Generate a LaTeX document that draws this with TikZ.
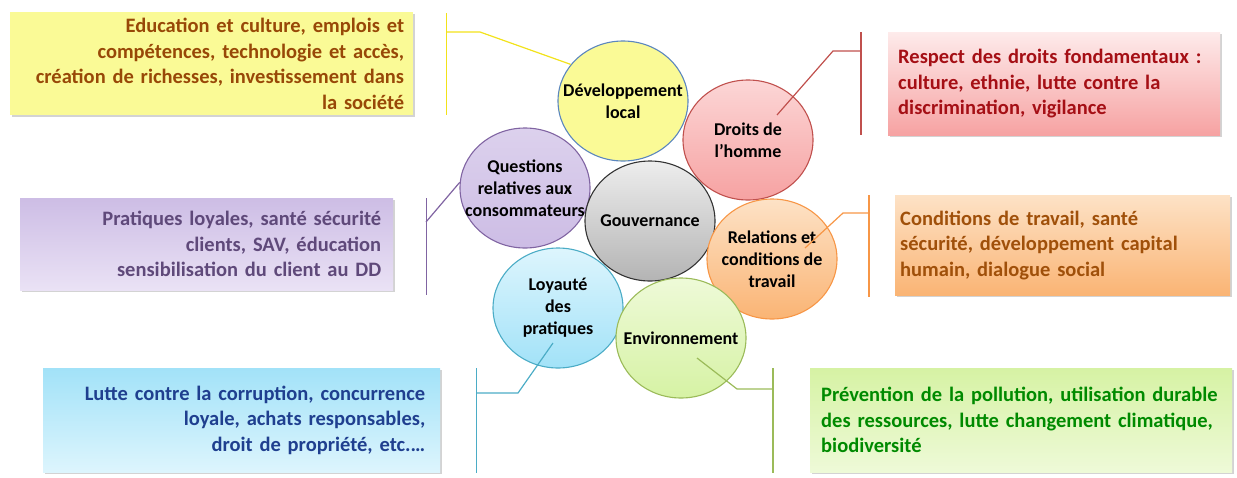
\documentclass[tikz,border=0pt]{standalone}
\usepackage{fontspec}
\setmainfont{Carlito}
\usetikzlibrary{calc}
\usetikzlibrary{shapes.geometric}
\usetikzlibrary{positioning}
\usetikzlibrary{shadows}

\definecolor{devline}{HTML}{5B86BE}
\definecolor{yelfill}{HTML}{FAFA96}
\definecolor{yelline}{HTML}{F2E21A}
\definecolor{yeltext}{HTML}{984807}
\definecolor{redline}{HTML}{C0504D}
\definecolor{redtop}{HTML}{FCD6D6}
\definecolor{redbot}{HTML}{F6A2A2}
\definecolor{redtext}{HTML}{A50F15}
\definecolor{purline}{HTML}{8064A2}
\definecolor{purtop}{HTML}{CDBDE5}
\definecolor{purbot}{HTML}{EAE2F5}
\definecolor{purtext}{HTML}{5F497A}
\definecolor{oraline}{HTML}{F79646}
\definecolor{oratop}{HTML}{FDE2C6}
\definecolor{orabot}{HTML}{FAB474}
\definecolor{oratext}{HTML}{A0500A}
\definecolor{bluline}{HTML}{4BACC6}
\definecolor{blutop}{HTML}{A2E2F8}
\definecolor{blubot}{HTML}{DDF5FD}
\definecolor{blutext}{HTML}{1F3F8F}
\definecolor{greline}{HTML}{9BBB59}
\definecolor{gretop}{HTML}{D6F2A4}
\definecolor{grebot}{HTML}{EEFAD8}
\definecolor{gretext}{HTML}{008A00}
\definecolor{govtop}{HTML}{EDEDED}
\definecolor{govbot}{HTML}{B4B4B4}

\tikzset{
    theme/.style={draw=#1, line width=1.1pt, ellipse, minimum width=130, minimum height=120,
      inner sep=-25pt, align=center, font=\fontsize{18}{22}\selectfont\bfseries},
    infobox/.style={rectangle, anchor=north west, inner xsep=9pt, inner ysep=0pt,
      font=\fontsize{20.5}{25.5}\selectfont\bfseries,
      drop shadow={opacity=0.35, shadow xshift=2pt, shadow yshift=-2pt}},
    callout/.style={draw=#1, line width=1.2pt}
}

\begin{document}
\begin{tikzpicture}[x=1pt, y=-1pt]
\useasboundingbox (0,0) rectangle (1237,477);

%circles
\node[theme=devline, fill=yelfill] (dev) at (623,101) {Développement\\local};
\node[theme=redline, top color=redtop, bottom color=redbot] (droits) at (748,140) {Droits de\\l’homme};
\node[theme=purline, top color=purtop!70, bottom color=purtop] (quest) at (525,188) {Questions\\relatives aux\\consommateurs};
\node[theme=black!80, top color=govtop, bottom color=govbot] (gov) at (650,221) {Gouvernance};
\node[theme=oraline, top color=oratop, bottom color=orabot] (rel) at (772,259) {Relations et\\conditions de\\travail};
\node[theme=bluline, top color=blubot, bottom color=blutop] (loy) at (558,308) {Loyauté\\des\\pratiques};
\node[theme=greline, top color=grebot, bottom color=gretop] (env) at (681,338) {Environnement};

%text boxes
\node[infobox, fill=yelfill, text=yeltext, minimum width=403, minimum height=103,
  text width=385, align=right] (ybox) at (10,12)
  {Education et culture, emplois et\\compétences, technologie et accès,\\création de richesses, investissement dans\\la société};
\node[infobox, top color=redtop!50, bottom color=redbot, text=redtext, minimum width=332, minimum height=103,
  text width=312, align=left, inner xsep=10pt] (rbox) at (888,32)
  {Respect des droits fondamentaux :\\culture, ethnie, lutte contre la\\discrimination, vigilance};
\node[infobox, top color=purtop, bottom color=purbot, text=purtext, minimum width=373, minimum height=92,
  text width=349, align=right, inner xsep=12pt] (pbox) at (20,198)
  {Pratiques loyales, santé sécurité\\clients, SAV, éducation\\sensibilisation du client au DD};
\node[infobox, top color=oratop, bottom color=orabot, text=oratext, minimum width=335, minimum height=100,
  text width=325, align=left, inner xsep=5pt] (obox) at (895,195)
  {Conditions de travail, santé\\sécurité, développement capital\\humain, dialogue social};
\node[infobox, top color=blutop, bottom color=blubot, text=blutext, minimum width=397, minimum height=104,
  text width=367, align=right, inner xsep=15pt] (bbox) at (43,368)
  {Lutte contre la corruption, concurrence\\loyale, achats responsables,\\droit de propriété, etc.…};
\node[infobox, top color=gretop, bottom color=grebot, text=gretext, minimum width=422, minimum height=104,
  text width=400, align=left, inner xsep=11pt] (gbox) at (810,368)
  {Prévention de la pollution, utilisation durable\\des ressources, lutte changement climatique,\\biodiversité};

%developpement local branch
\coordinate (ytop) at ($(ybox.north east)+(33,1)$);
\coordinate (ybot) at ($(ybox.south east)+(33,0)$);
\coordinate (yknee) at (480,32);
\draw[callout=yelline] (ytop) -- (ybot);
\draw[callout=yelline] (ytop |- yknee) -- (yknee) -- (dev.145);

%droits branch
\coordinate (rtop) at ($(rbox.north west)+(-27,0)$);
\coordinate (rbot) at ($(rbox.south west)+(-27,0)$);
\coordinate (rknee) at (833,51);
\draw[callout=redline] (rtop) -- (rbot);
\draw[callout=redline] (rtop |- rknee) -- (rknee) -- ($(droits.center)+(29,-25)$);

%consommateurs branch
\coordinate (ptop) at ($(pbox.north east)+(33,0)$);
\coordinate (pbot) at ($(pbox.south east)+(33,5)$);
\coordinate (pfoot) at (426,222);
\draw[callout=purline] (ptop) -- (pbot);
\draw[callout=purline] (pfoot) -- (quest.175);

%relations branch
\coordinate (otop) at ($(obox.north west)+(-26,0)$);
\coordinate (obot) at ($(obox.south west)+(-26,2)$);
\coordinate (oknee) at (843,213);
\draw[callout=oraline] (otop) -- (obot);
\draw[callout=oraline] (otop |- oknee) -- (oknee) -- ($(rel.center)+(33,-11)$);

%loyaute branch
\coordinate (btop) at ($(bbox.north east)+(36,0)$);
\coordinate (bbot) at ($(bbox.south east)+(36,1)$);
\coordinate (bknee) at (518,393);
\draw[callout=bluline] (btop) -- (bbot);
\draw[callout=bluline] (btop |- bknee) -- (bknee) -- ($(loy.center)+(-5,35)$);

%environnement branch
\coordinate (gtop) at ($(gbox.north west)+(-37,0)$);
\coordinate (gbot) at ($(gbox.south west)+(-37,1)$);
\coordinate (gknee) at (737,389);
\draw[callout=greline] (gtop) -- (gbot);
\draw[callout=greline] (gtop |- gknee) -- (gknee) -- ($(env.center)+(16,20)$);

\end{tikzpicture}
\end{document}
